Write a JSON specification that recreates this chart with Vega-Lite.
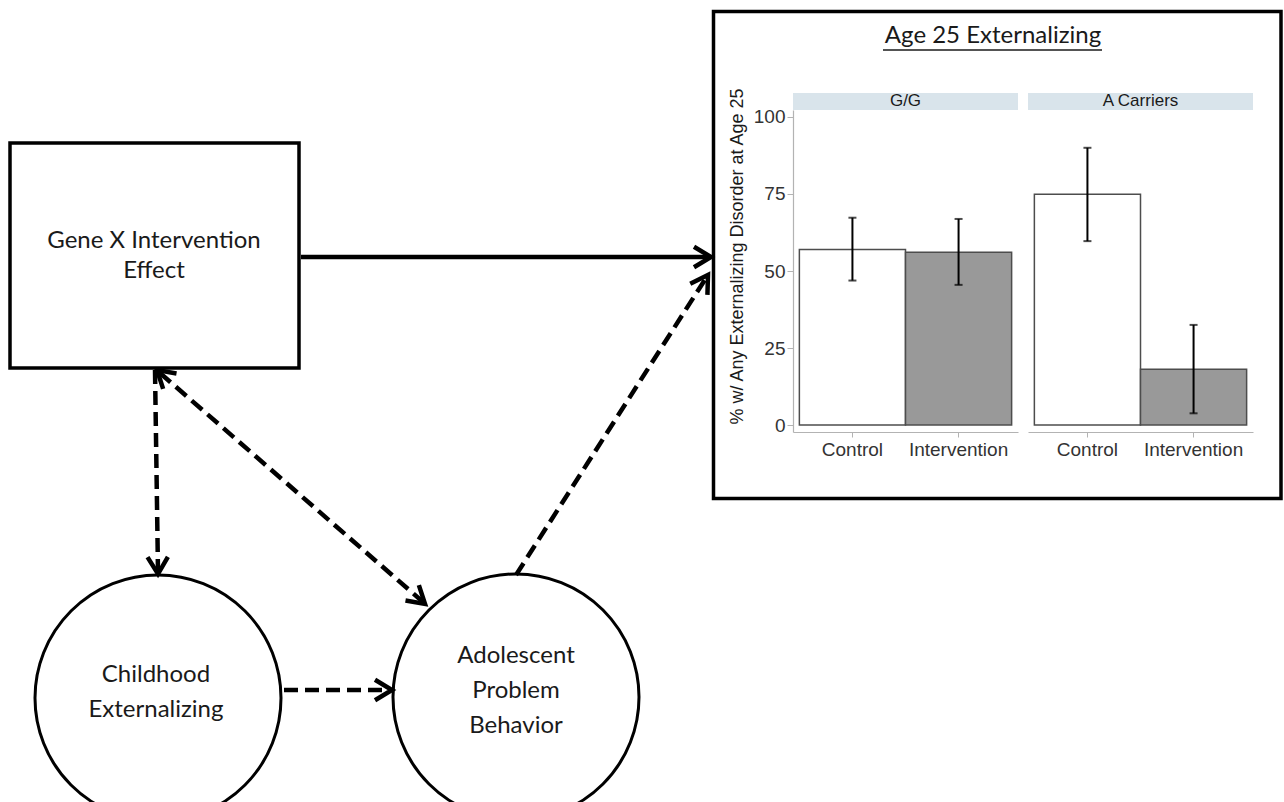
{
  "$schema": "https://vega.github.io/schema/vega-lite/v6.json",
  "padding": 0,
  "background": "white",
  "bounds": "flush",
  "spacing": 81,
  "config": {
    "view": {"stroke": null},
    "axis": {"grid": false},
    "font": "Liberation Sans"
  },
  "datasets": {
    "boxes": [
      {"element": "Gene X Intervention Effect", "x": 10, "x2": 299, "y": 143, "y2": 368},
      {"element": "Age 25 Externalizing panel", "x": 713.5, "x2": 1281, "y": 11.5, "y2": 498.5}
    ],
    "circles": [
      {"element": "Childhood Externalizing", "x": 158, "y": 698},
      {"element": "Adolescent Problem Behavior", "x": 516, "y": 697}
    ],
    "labels": [
      {"shape": "box", "label": ["Gene X Intervention", "Effect"], "x": 154, "y": 248},
      {"shape": "circle", "label": ["Childhood", "Externalizing"], "x": 156, "y": 682},
      {"shape": "circle", "label": ["Adolescent", "Problem", "Behavior"], "x": 516, "y": 663}
    ],
    "edges": [
      {"path": "Gene X Intervention -> Age 25", "style": "solid", "x": 301, "y": 257, "x2": 709, "y2": 257},
      {"path": "Gene X Intervention -> Childhood", "style": "dashed", "x": 155, "y": 370, "x2": 158, "y2": 572},
      {"path": "Gene X Intervention <-> Adolescent", "style": "dashed", "x": 160, "y": 373, "x2": 423, "y2": 602},
      {"path": "Childhood -> Adolescent", "style": "dashed", "x": 284, "y": 690, "x2": 390, "y2": 690},
      {"path": "Adolescent -> Age 25", "style": "dashed", "x": 516, "y": 575, "x2": 706, "y2": 278}
    ],
    "heads": [
      {"path": "Gene X Intervention -> Age 25", "x": 711, "y": 257, "angle": 0},
      {"path": "Gene X Intervention -> Childhood", "x": 158, "y": 574, "angle": 89},
      {"path": "Gene X Intervention <-> Adolescent", "x": 425, "y": 604, "angle": 41},
      {"path": "Gene X Intervention <-> Adolescent", "x": 157, "y": 370, "angle": 221},
      {"path": "Childhood -> Adolescent", "x": 392, "y": 690, "angle": 0},
      {"path": "Adolescent -> Age 25", "x": 708, "y": 275, "angle": 302.6}
    ],
    "title": [
      {"text": "Age 25 Externalizing", "x": 200, "y": 43, "ux": 90, "ux2": 309, "uy": 50}
    ],
    "bars": [
      {"genotype": "G/G", "group": "Control", "pct": 57.0, "lo": 46.9, "hi": 67.3},
      {"genotype": "G/G", "group": "Intervention", "pct": 56.1, "lo": 45.5, "hi": 66.9},
      {"genotype": "A Carriers", "group": "Control", "pct": 74.9, "lo": 59.7, "hi": 90.0},
      {"genotype": "A Carriers", "group": "Intervention", "pct": 18.1, "lo": 3.8, "hi": 32.5}
    ]
  },
  "hconcat": [
    {
      "width": 712,
      "height": 802,
      "layer": [
        {
          "data": {"name": "boxes"},
          "mark": {"type": "rect", "filled": false, "color": "black", "strokeWidth": 3.5},
          "encoding": {
            "x": {"field": "x", "type": "quantitative", "scale": {"domain": [0, 712]}, "axis": null},
            "x2": {"field": "x2"},
            "y": {"field": "y", "type": "quantitative", "scale": {"domain": [0, 802], "reverse": true}, "axis": null},
            "y2": {"field": "y2"}
          }
        },
        {
          "data": {"name": "circles"},
          "mark": {"type": "point", "shape": "circle", "filled": false, "color": "black", "strokeWidth": 3, "size": 60516, "opacity": 1},
          "encoding": {
            "x": {"field": "x", "type": "quantitative", "scale": {"domain": [0, 712]}, "axis": null},
            "y": {"field": "y", "type": "quantitative", "scale": {"domain": [0, 802], "reverse": true}, "axis": null}
          }
        },
        {
          "data": {"name": "edges"},
          "mark": {"type": "rule", "color": "black", "strokeWidth": 4.5},
          "encoding": {
            "x": {"field": "x", "type": "quantitative", "scale": {"domain": [0, 712]}, "axis": null},
            "x2": {"field": "x2"},
            "y": {"field": "y", "type": "quantitative", "scale": {"domain": [0, 802], "reverse": true}, "axis": null},
            "y2": {"field": "y2"},
            "strokeDash": {"field": "style", "type": "nominal", "scale": {"domain": ["solid", "dashed"], "range": [[1, 0], [14, 7]]}, "legend": null}
          }
        },
        {
          "data": {"name": "heads"},
          "mark": {"type": "point", "shape": "M-1,-0.6L0,0L-1,0.6", "filled": false, "color": "black", "strokeWidth": 4.5, "size": 1156, "opacity": 1, "strokeJoin": "miter"},
          "encoding": {
            "x": {"field": "x", "type": "quantitative", "scale": {"domain": [0, 712]}, "axis": null},
            "y": {"field": "y", "type": "quantitative", "scale": {"domain": [0, 802], "reverse": true}, "axis": null},
            "angle": {"field": "angle", "type": "quantitative", "scale": null}
          }
        },
        {
          "data": {"name": "labels"},
          "transform": [{"filter": "datum.shape === 'box'"}],
          "mark": {"type": "text", "font": "Lato", "fontSize": 24, "lineHeight": 30, "align": "center", "baseline": "alphabetic", "color": "#1a1a1a"},
          "encoding": {
            "x": {"field": "x", "type": "quantitative", "scale": {"domain": [0, 712]}, "axis": null},
            "y": {"field": "y", "type": "quantitative", "scale": {"domain": [0, 802], "reverse": true}, "axis": null},
            "text": {"field": "label"}
          }
        },
        {
          "data": {"name": "labels"},
          "transform": [{"filter": "datum.shape === 'circle'"}],
          "mark": {"type": "text", "font": "Lato", "fontSize": 24, "lineHeight": 35, "align": "center", "baseline": "alphabetic", "color": "#1a1a1a"},
          "encoding": {
            "x": {"field": "x", "type": "quantitative", "scale": {"domain": [0, 712]}, "axis": null},
            "y": {"field": "y", "type": "quantitative", "scale": {"domain": [0, 802], "reverse": true}, "axis": null},
            "text": {"field": "label"}
          }
        }
      ]
    },
    {
      "spacing": 0,
      "vconcat": [
        {
          "width": 460,
          "height": 86,
          "data": {"name": "title"},
          "layer": [
            {
              "mark": {"type": "text", "font": "Lato", "fontSize": 24, "align": "center", "baseline": "alphabetic", "color": "#1a1a1a"},
              "encoding": {
                "x": {"field": "x", "type": "quantitative", "scale": {"domain": [0, 460]}, "axis": null},
                "y": {"field": "y", "type": "quantitative", "scale": {"domain": [0, 86], "reverse": true}, "axis": null},
                "text": {"field": "text"}
              }
            },
            {
              "mark": {"type": "rule", "color": "#1a1a1a", "strokeWidth": 1.6},
              "encoding": {
                "x": {"field": "ux", "type": "quantitative", "scale": {"domain": [0, 460]}, "axis": null},
                "x2": {"field": "ux2"},
                "y": {"field": "uy", "type": "quantitative", "scale": {"domain": [0, 86], "reverse": true}, "axis": null}
              }
            }
          ]
        },
        {
          "data": {"name": "bars"},
          "facet": {
            "column": {"field": "genotype", "type": "nominal", "sort": ["G/G", "A Carriers"], "header": {"title": null, "labels": false}}
          },
          "spacing": 10,
          "spec": {
            "width": 225,
            "height": 322,
            "encoding": {
              "x": {
                "field": "group", "type": "nominal", "sort": ["Control", "Intervention"],
                "scale": {"paddingInner": 0, "paddingOuter": 0.06},
                "axis": {"title": null, "labelAngle": 0, "labelFontSize": 19, "labelColor": "#333333", "tickColor": "#b3b3b3", "domainColor": "#b3b3b3", "tickSize": 5, "labelPadding": 3, "domainWidth": 1.2}
              }
            },
            "layer": [
              {
                "transform": [{"filter": "datum.group === 'Control'"}],
                "mark": {"type": "rect", "fill": "#d9e4eb"},
                "encoding": {
                  "x": {"value": 0},
                  "x2": {"value": "width"},
                  "y": {"datum": 102.27, "type": "quantitative"},
                  "y2": {"datum": 107.8}
                }
              },
              {
                "transform": [{"filter": "datum.group === 'Control'"}],
                "mark": {"type": "text", "fontSize": 17, "color": "#1a1a1a", "baseline": "middle", "align": "center"},
                "encoding": {
                  "x": {"field": "group", "type": "nominal", "bandPosition": 1},
                  "y": {"datum": 105.03, "type": "quantitative"},
                  "text": {"field": "genotype"}
                }
              },
              {
                "mark": {"type": "bar", "stroke": "#4d4d4d", "strokeWidth": 1.5},
                "encoding": {
                  "y": {
                    "field": "pct", "type": "quantitative",
                    "scale": {"domain": [-2.27, 102.27], "nice": false, "zero": false},
                    "axis": {
                      "title": "% w/ Any Externalizing Disorder at Age 25",
                      "values": [0, 25, 50, 75, 100],
                      "labelFontSize": 19, "labelColor": "#333333", "tickColor": "#b3b3b3", "domainColor": "#b3b3b3",
                      "tickSize": 6, "labelPadding": 2, "domainWidth": 1.2,
                      "titleFontSize": 18, "titleFontWeight": "normal", "titleColor": "#1a1a1a", "titlePadding": 7, "titleY": 146
                    }
                  },
                  "y2": {"datum": 0},
                  "fill": {"field": "group", "type": "nominal", "scale": {"domain": ["Control", "Intervention"], "range": ["#ffffff", "#999999"]}, "legend": null}
                }
              },
              {
                "mark": {"type": "rule", "color": "black", "strokeWidth": 2},
                "encoding": {
                  "y": {"field": "lo", "type": "quantitative"},
                  "y2": {"field": "hi"}
                }
              },
              {
                "mark": {"type": "tick", "color": "black", "thickness": 2, "size": 8},
                "encoding": {"y": {"field": "hi", "type": "quantitative"}}
              },
              {
                "mark": {"type": "tick", "color": "black", "thickness": 2, "size": 8},
                "encoding": {"y": {"field": "lo", "type": "quantitative"}}
              }
            ]
          }
        }
      ]
    }
  ]
}
